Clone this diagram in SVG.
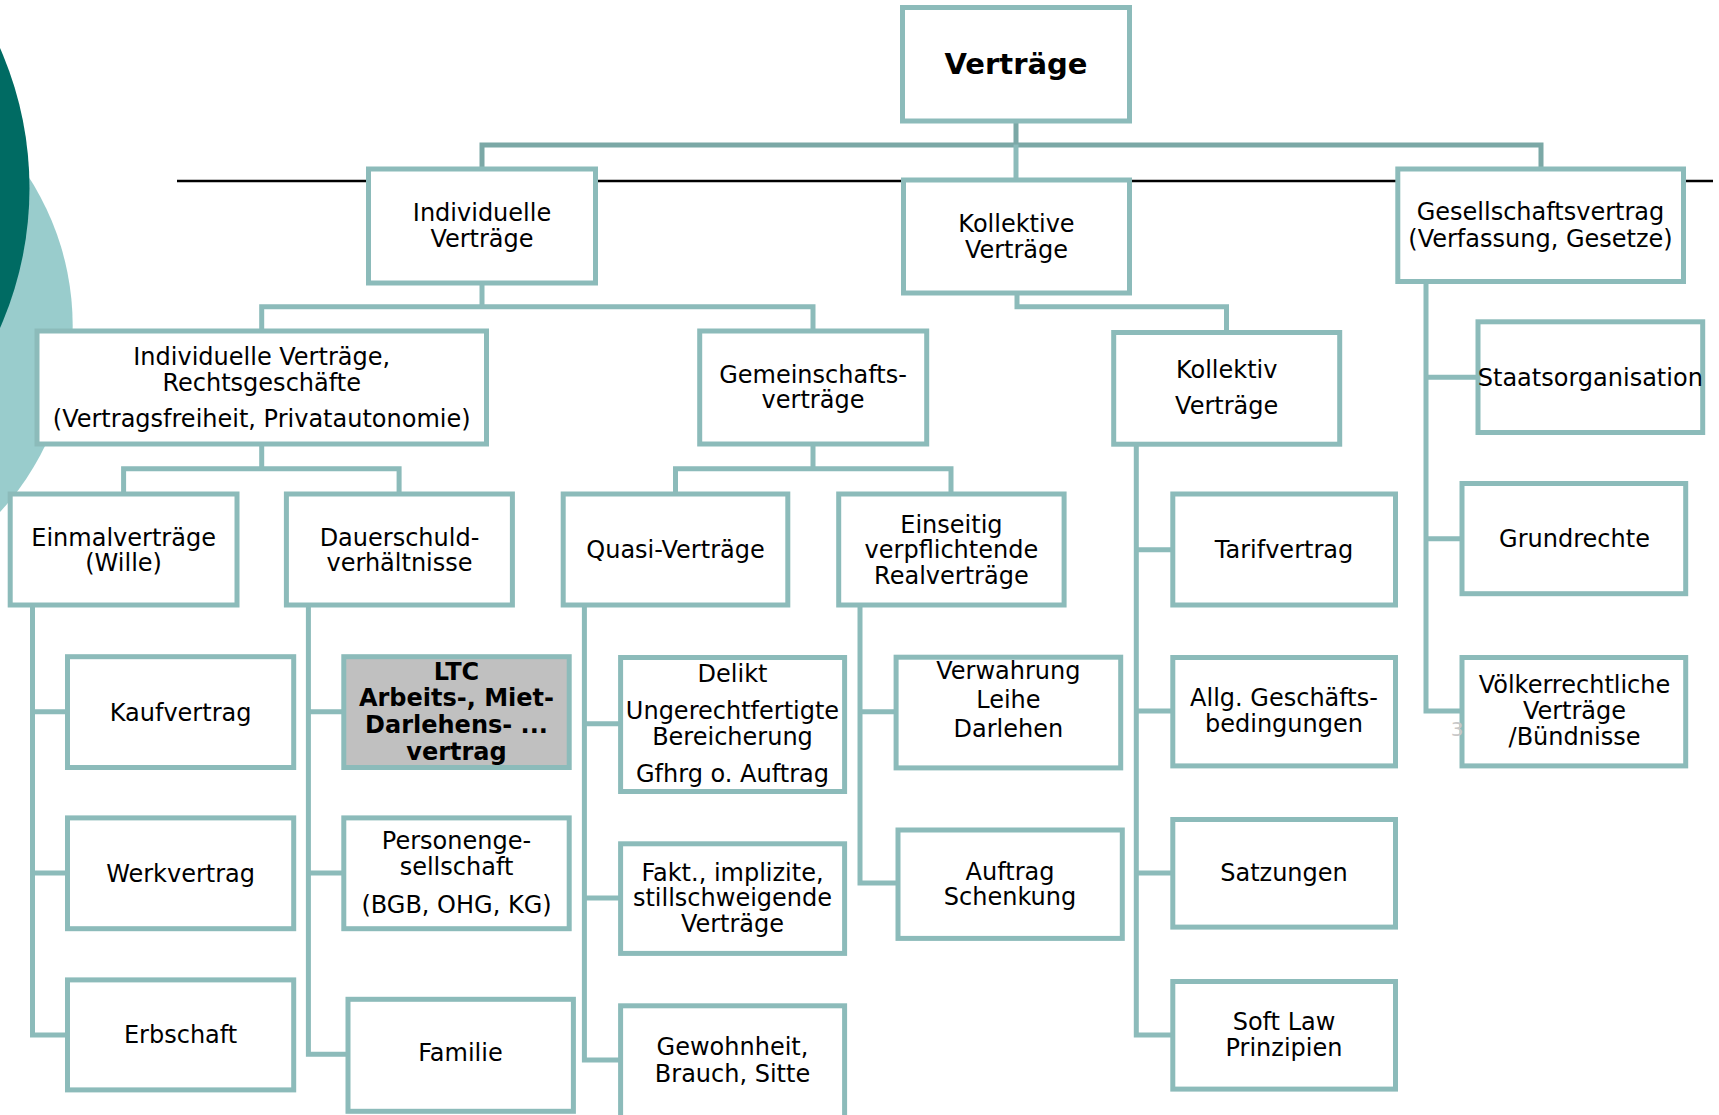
<svg xmlns="http://www.w3.org/2000/svg" width="1719" height="1115" viewBox="0 0 1719 1115">
<style>
.b{fill:#fff;stroke:#8cbbba;stroke-width:5}
.g{fill:#c0c0c0;stroke:#8cbbba;stroke-width:5}
.c{fill:none;stroke:#8cbbba;stroke-width:5;stroke-linecap:square}
.ct{fill:none;stroke:#7ba8a6;stroke-width:5;stroke-linecap:square}
text{font-family:"DejaVu Sans","Verdana",sans-serif;font-size:24px;fill:#000;text-anchor:middle}
.bold{font-weight:bold}
</style>
<rect width="1719" height="1115" fill="#fff"/>
<g id="decor">
<circle cx="-201.6" cy="326" r="274.3" fill="#99cccc"/>
<circle cx="-317.5" cy="188" r="347" fill="#006b63"/>
<line x1="177" y1="181" x2="1713" y2="181" stroke="#000" stroke-width="2.5"/>
</g>
<g id="connectors">
<path class="ct" d="M1016,123 V145 M482,145 H1541 M482,145 V167 M1541,145 V167"/>
<path class="c" d="M1016,147 V178"/>
<path class="c" d="M482,285 V306.7 M261.7,306.7 H813 M261.7,306.7 V329 M813,306.7 V329"/>
<path class="c" d="M1017,296 V306.7 H1226.5 V330"/>
<path class="c" d="M261.7,447 V468.7 M123.6,468.7 H399.1 M123.6,468.7 V491.5 M399.1,468.7 V491.5"/>
<path class="c" d="M813,447 V468.7 M675.5,468.7 H951 M675.5,468.7 V491.5 M951,468.7 V491.5"/>
<path class="c" d="M32.5,608 V1034.9 H65 M32.5,711.7 H65 M32.5,872.9 H65"/>
<path class="c" d="M308.4,608 V1054.3 H345.5 M308.4,711.7 H341.3 M308.4,872.9 H341.3"/>
<path class="c" d="M584.4,608 V1060 H618 M584.4,723.8 H618 M584.4,898 H618"/>
<path class="c" d="M860,608 V883 H895.5 M860,711.7 H893.6"/>
<path class="c" d="M1136.3,447 V1034.9 H1170 M1136.3,549.7 H1170 M1136.3,710.9 H1170 M1136.3,872.9 H1170"/>
<path class="c" d="M1426,284 V710.9 H1459.5 M1426,377.3 H1475.5 M1426,538.7 H1459.5"/>
</g>
<g id="n-vertraege"><rect class="b" x="902.5" y="7.5" width="227" height="113.5"/><text class="bold" x="1016" y="74" style="font-size:29px">Verträge</text></g>
<g id="n-individuelle"><rect class="b" x="368.5" y="169" width="227" height="114"/><text x="482" y="220.7">Individuelle</text><text x="482" y="246.7">Verträge</text></g>
<g id="n-kollektive"><rect class="b" x="903.5" y="180" width="226" height="113"/><text x="1016.5" y="232.3">Kollektive</text><text x="1016.5" y="257.7">Verträge</text></g>
<g id="n-gesellschaft"><rect class="b" x="1397.8" y="169" width="285.7" height="112.5"/><text x="1540.5" y="220">Gesellschaftsvertrag</text><text x="1540.5" y="246.7">(Verfassung, Gesetze)</text></g>
<g id="n-ivr"><rect class="b" x="37" y="331" width="449.5" height="113"/><text x="261.7" y="365">Individuelle Verträge,</text><text x="261.7" y="390.7">Rechtsgeschäfte</text><text x="261.7" y="426.7">(Vertragsfreiheit, Privatautonomie)</text></g>
<g id="n-gemeinschaft"><rect class="b" x="699.7" y="331" width="227" height="113"/><text x="813" y="382.7">Gemeinschafts-</text><text x="813" y="408.3">verträge</text></g>
<g id="n-kollektiv"><rect class="b" x="1113.7" y="332.5" width="226" height="111.7"/><text x="1226.7" y="378.3">Kollektiv</text><text x="1226.7" y="414">Verträge</text></g>
<g id="n-staat"><rect class="b" x="1478" y="321.8" width="224.7" height="110.7"/><text x="1590.3" y="385.7">Staatsorganisation</text></g>
<g id="n-einmal"><rect class="b" x="10.2" y="494" width="226.8" height="111"/><text x="123.6" y="545.6">Einmalverträge</text><text x="123.6" y="571.1">(Wille)</text></g>
<g id="n-dauer"><rect class="b" x="286.4" y="494" width="226" height="111"/><text x="399.5" y="545.6">Dauerschuld-</text><text x="399.5" y="571.1">verhältnisse</text></g>
<g id="n-quasi"><rect class="b" x="563.2" y="494" width="224.6" height="111"/><text x="675.5" y="557.8">Quasi-Verträge</text></g>
<g id="n-einseitig"><rect class="b" x="838.7" y="494" width="225.4" height="111"/><text x="951.4" y="532.7">Einseitig</text><text x="951.4" y="557.8">verpflichtende</text><text x="951.4" y="584.1">Realverträge</text></g>
<g id="n-tarif"><rect class="b" x="1172.8" y="494" width="222.7" height="111"/><text x="1284" y="557.8">Tarifvertrag</text></g>
<g id="n-grundrechte"><rect class="b" x="1462" y="483.5" width="223.7" height="110.2"/><text x="1574.5" y="546.8">Grundrechte</text></g>
<g id="n-kauf"><rect class="b" x="67.5" y="656.7" width="226.2" height="110.8"/><text x="180.6" y="721">Kaufvertrag</text></g>
<g id="n-ltc"><rect class="g" x="343.8" y="656.7" width="225.4" height="110.8"/><text class="bold" x="456.5" y="680">LTC</text><text class="bold" x="456.5" y="706">Arbeits-, Miet-</text><text class="bold" x="456.5" y="733">Darlehens- ...</text><text class="bold" x="456.5" y="759.5">vertrag</text></g>
<g id="n-delikt"><rect class="b" x="620.6" y="657.5" width="224" height="134"/><text x="732.5" y="681.7">Delikt</text><text x="732.5" y="719">Ungerechtfertigte</text><text x="732.5" y="745.3">Bereicherung</text><text x="732.5" y="781.7">Gfhrg o. Auftrag</text></g>
<g id="n-verwahrung"><rect class="b" x="896.1" y="657.2" width="224.6" height="110.7"/><text x="1008.4" y="678.5">Verwahrung</text><text x="1008.4" y="707.6">Leihe</text><text x="1008.4" y="737.2">Darlehen</text></g>
<g id="n-allg"><rect class="b" x="1172.8" y="657.5" width="222.7" height="108.4"/><text x="1284" y="706">Allg. Geschäfts-</text><text x="1284" y="731.9">bedingungen</text></g>
<g id="n-voelker"><rect class="b" x="1462" y="657.5" width="223.7" height="108.4"/><text x="1574.5" y="692.6">Völkerrechtliche</text><text x="1574.5" y="719">Verträge</text><text x="1574.5" y="745.3">/Bündnisse</text></g>
<g id="n-werk"><rect class="b" x="67.5" y="817.9" width="226.2" height="110.8"/><text x="180.6" y="881.8">Werkvertrag</text></g>
<g id="n-personen"><rect class="b" x="343.8" y="817.9" width="225.4" height="110.8"/><text x="456.5" y="849.4">Personenge-</text><text x="456.5" y="874.9">sellschaft</text><text x="456.5" y="912.6">(BGB, OHG, KG)</text></g>
<g id="n-fakt"><rect class="b" x="620.6" y="843.8" width="224" height="109.6"/><text x="732.5" y="881">Fakt., implizite,</text><text x="732.5" y="906">stillschweigende</text><text x="732.5" y="932.4">Verträge</text></g>
<g id="n-auftrag"><rect class="b" x="898" y="830" width="224.3" height="108.4"/><text x="1010" y="880.2">Auftrag</text><text x="1010" y="905.3">Schenkung</text></g>
<g id="n-satzungen"><rect class="b" x="1172.8" y="819.5" width="222.7" height="107.6"/><text x="1284" y="881">Satzungen</text></g>
<g id="n-erbschaft"><rect class="b" x="67.5" y="979.9" width="226.2" height="110"/><text x="180.6" y="1043">Erbschaft</text></g>
<g id="n-familie"><rect class="b" x="348" y="999.3" width="225.4" height="112"/><text x="460.5" y="1061.2">Familie</text></g>
<g id="n-gewohnheit"><rect class="b" x="620.6" y="1005.8" width="224" height="116"/><text x="732.5" y="1055.1">Gewohnheit,</text><text x="732.5" y="1081.5">Brauch, Sitte</text></g>
<g id="n-softlaw"><rect class="b" x="1172.8" y="981.5" width="222.7" height="107.6"/><text x="1284" y="1030">Soft Law</text><text x="1284" y="1056">Prinzipien</text></g>
<text x="1457" y="736" style="font-size:20px;fill:#c8c8c8">3</text>
</svg>
